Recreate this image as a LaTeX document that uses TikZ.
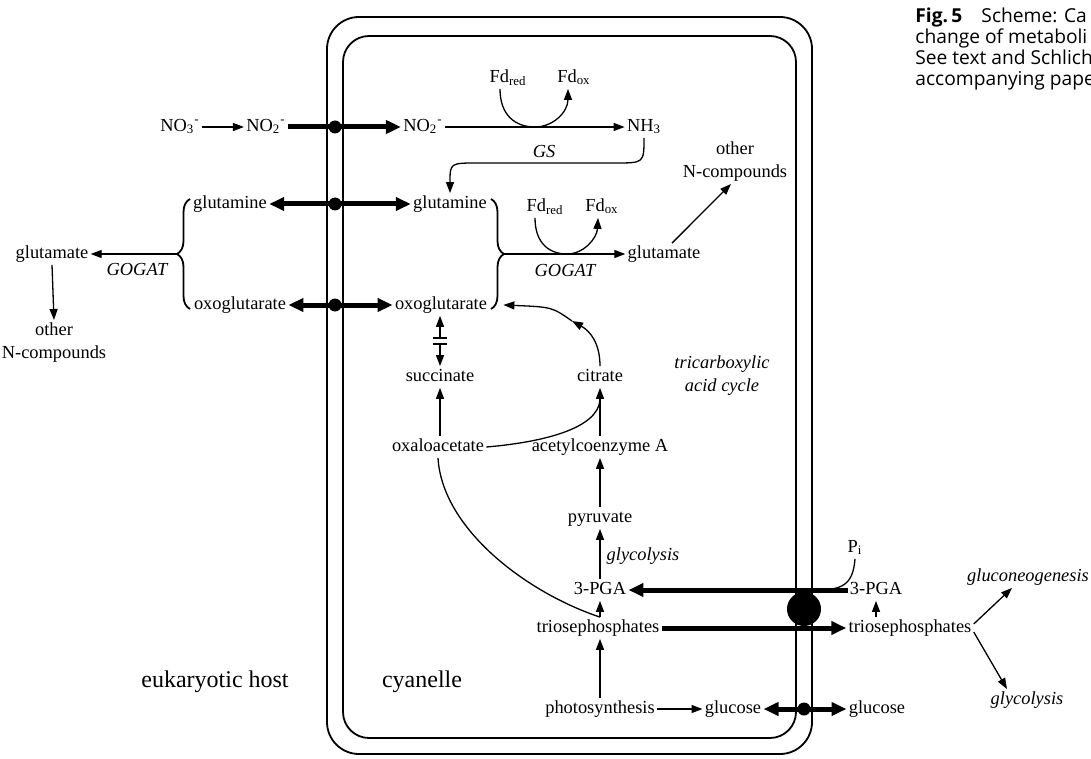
\documentclass[tikz,border=0pt]{standalone}
\usepackage{fontspec}
\setmainfont{Liberation Serif}
\newfontfamily\capfont{Open Sans}
\usetikzlibrary{arrows.meta,decorations.pathreplacing}
\newcommand\mfont{\fontsize{9.2}{11.5}\selectfont}
\newcommand\bfont{\fontsize{12}{14}\selectfont}
\tikzset{
  met/.style={font=\mfont, inner sep=1pt, text height=6.5pt, text depth=2pt},
  enz/.style={met, font=\mfont\itshape},
  mlbl/.style={font=\mfont, inner sep=1pt, align=center},
  big/.style={font=\bfont, inner sep=1pt},
  ln/.style={line width=0.65pt},
  arr/.style={-{Triangle[length=5.5pt,width=4pt]}, line width=0.65pt},
  tarr/.style={-{Triangle[length=7.5pt,width=6.5pt]}, line width=2.5pt},
  tdarr/.style={{Triangle[length=7.5pt,width=6.5pt]}-{Triangle[length=7.5pt,width=6.5pt]}, line width=2.5pt},
  pore/.style={circle, fill, inner sep=0pt, minimum size=6.5pt},
  bigpore/.style={circle, fill, inner sep=0pt, minimum size=17pt},
  memb/.style={line width=0.9pt},
  brc/.style={decorate, decoration={brace, amplitude=6.5pt}, line width=0.9pt},
}

\begin{document}
\begin{tikzpicture}[x=0.5pt, y=-0.5pt]
\useasboundingbox (0,0) rectangle (1091,759);
\fill[white] (0,0) rectangle (1091,759);

% Envelope membranes
\draw[memb, rounded corners=16pt] (327,17) rectangle (812,754);
\draw[memb, rounded corners=13pt] (343,36) rectangle (796,738);

% Caption
\node[anchor=north west, inner sep=0pt, align=left, font=\capfont\fontsize{9.6}{10.5}\selectfont] (cap) at (915,8)
  {\textbf{Fig.\,5}\quad Scheme: Ca\\change of metaboli\\See text and Schlich\\accompanying pape};

% Nitrate and nitrite
\node[met] (no3) at (180,127) {NO\textsubscript{3}\textsuperscript{-}};
\node[met] (no2o) at (266,127) {NO\textsubscript{2}\textsuperscript{-}};
\node[met] (no2i) at (423,127) {NO\textsubscript{2}\textsuperscript{-}};
\node[met] (nh3) at (644,127) {NH\textsubscript{3}};
\node[met] (fdr1) at (508,78) {Fd\textsubscript{red}};
\node[met] (fdo1) at (574,78) {Fd\textsubscript{ox}};
\node[enz] (gs) at (544,153) {GS};
\node[mlbl, anchor=south] (othR) at (735,184) {other\\N-compounds};

\draw[arr] (no3) -- (no2o);
\draw[tarr] (no2o) -- (no2i);
\node[pore] (p1) at (335,127) {};
\draw[arr] (no2i) -- (nh3);
\draw[arr] ([xshift=-4pt]fdr1.south) .. controls (500,115) and (515,127) .. (535,127)
  .. controls (553,127) and (568,112) .. ([xshift=-3pt]fdo1.south);

% Glutamine / oxoglutarate exchange
\node[met] (glnL) at (230,204) {glutamine};
\node[met] (glnR) at (450,204) {glutamine};
\node[met] (oxoL) at (240,305) {oxoglutarate};
\node[met] (oxoR) at (441,305) {oxoglutarate};
\node[met] (glutL) at (52,254) {glutamate};
\node[enz] (gogL) at (137,271) {GOGAT};
\node[mlbl, anchor=north] (othL) at (54,320) {other\\N-compounds};
\node[met] (fdr2) at (545,207) {Fd\textsubscript{red}};
\node[met] (fdo2) at (602,207) {Fd\textsubscript{ox}};
\node[met] (glutR) at (664,254) {glutamate};
\node[enz] (gogR) at (565,272) {GOGAT};

\draw[arr] (nh3.south) .. controls (644,163) .. (615,163) -- (478,163) .. controls (450,163) .. (glnR.north);
\draw[tdarr] (glnL) -- (glnR);
\node[pore] (p2) at (335,204) {};
\draw[tdarr] (oxoL) -- (oxoR);
\node[pore] (p3) at (335,305) {};

\draw[brc] (190,309) -- (190,199);
\draw[brc] (491,199) -- (491,309);
\coordinate (brL) at (177,254);
\coordinate (brR) at (504,254);
\draw[arr] (brL) -- (glutL);
\draw[arr] (glutL.south) -- (othL.north);
\draw[arr] (brR) -- (glutR);
\draw[arr] ([xshift=4pt]glutR.north) -- ([xshift=-2pt]othR.south);
\draw[arr] ([xshift=-5pt]fdr2.south) .. controls (535,244) and (550,254) .. (567,254)
  .. controls (584,254) and (597,238) .. ([xshift=-2pt]fdo2.south);

% Tricarboxylic acid cycle
\node[met] (succ) at (440,377) {succinate};
\node[met] (cit) at (600,377) {citrate};
\node[mlbl, font=\mfont\itshape] (tca) at (722,376) {tricarboxylic\\acid cycle};
\node[met] (oaa) at (438,447) {oxaloacetate};
\node[met] (acoa) at (600,447) {acetylcoenzyme A};
\node[met] (pyr) at (600,518) {pyruvate};
\node[enz] (glyc) at (643,556) {glycolysis};

\coordinate (kb1) at (440,338);
\coordinate (kb2) at (440,344);
\draw[arr] (kb1) -- (oxoR.south -| kb1);
\draw[arr] (kb2) -- (succ.north);
\draw[ln] ([xshift=-3.5pt]kb1) -- ([xshift=3.5pt]kb1) ([xshift=-3.5pt]kb2) -- ([xshift=3.5pt]kb2);
\draw[arr] (oaa.north -| succ) -- (succ.south);
\draw[arr] (acoa) -- (cit);
\draw[ln] (oaa.east) .. controls (545,442) and (598,428) .. ([yshift=-6pt]cit.south);
\coordinate (tcam) at (572,321);
\draw[arr] (cit.north) .. controls (600,343) and (590,331) .. (tcam);
\draw[arr] (tcam) .. controls (552,307) .. ([xshift=7pt]oxoR.east);
\draw[arr] (pyr) -- (acoa);

% Triosephosphates, 3-PGA and glucose
\node[met] (pgaL) at (600,590) {3-PGA};
\node[met] (triL) at (598,628) {triosephosphates};
\node[met] (photo) at (600,709) {photosynthesis};
\node[met] (glcI) at (733,709) {glucose};
\node[met] (pi) at (855,548) {P\textsubscript{i}};
\node[met] (pgaR) at (876,590) {3-PGA};
\node[met] (triR) at (910,628) {triosephosphates};
\node[met] (glcR) at (877,709) {glucose};
\node[enz] (glucon) at (1028,577) {gluconeogenesis};
\node[enz] (glyR) at (1027,700) {glycolysis};

\draw[arr] (pgaL) -- (pyr);
\draw[arr] (triL.north -| pgaL) -- (pgaL.south);
\draw[ln] (oaa.south) .. controls (442,528) and (525,592) .. (triL.north -| pgaL);
\draw[tarr] (pgaR) -- (pgaL);
\draw[tarr] (triL) -- (triR);
\node[bigpore] (bp) at (804,609) {};
\coordinate (pij) at (816,590);
\draw[ln] (pi.south) .. controls (853,585) and (842,590) .. (pij);
\draw[arr] (triR.north -| pgaR) -- (pgaR.south);
\draw[arr] ([yshift=2pt]triR.east) -- ([xshift=-8pt]glucon.south);
\draw[arr] ([yshift=-2pt]triR.east) -- ([xshift=-10pt]glyR.north);
\draw[arr] (photo.north) -- (photo.north |- triL.south);
\draw[arr] (photo) -- (glcI);
\draw[tdarr] (glcI) -- (glcR);
\node[pore] (p4) at (804,709) {};

% Compartments
\node[big] (host) at (215,682) {eukaryotic host};
\node[big] (cyan) at (422,682) {cyanelle};

\end{tikzpicture}
\end{document}
